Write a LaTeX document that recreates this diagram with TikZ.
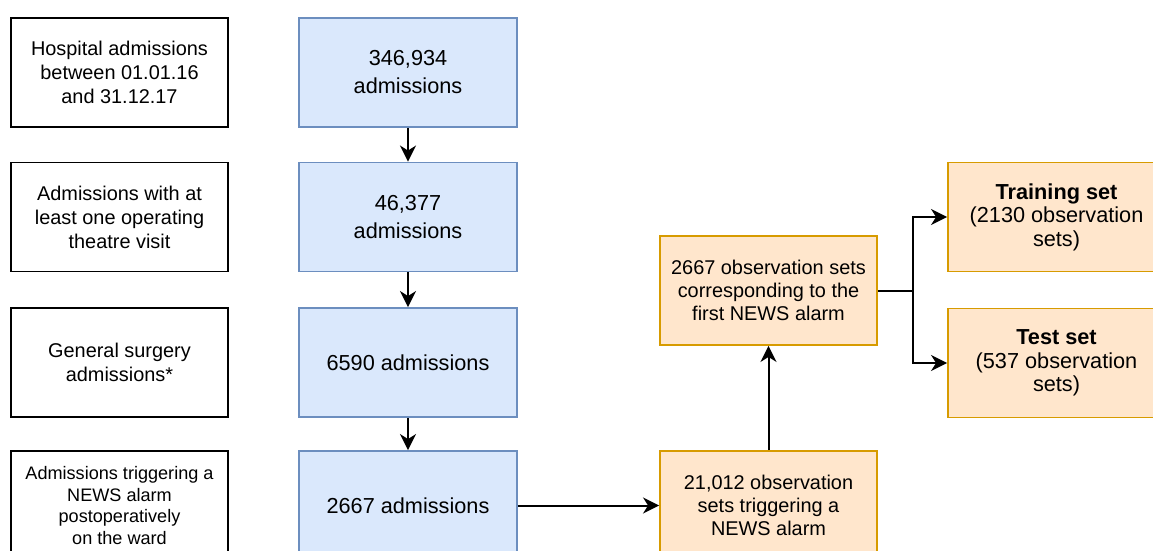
\documentclass[tikz,border=0pt]{standalone}
\usepackage{fontspec}
\setmainfont{Liberation Sans}
\usetikzlibrary{arrows.meta}

\definecolor{blueFill}{HTML}{DAE8FC}
\definecolor{blueLine}{HTML}{6C8EBF}
\definecolor{orangeFill}{HTML}{FFE6CC}
\definecolor{orangeLine}{HTML}{D79B00}

\tikzset{
  box/.style={draw, line width=1.9pt, minimum width=217pt, minimum height=109pt,
    inner sep=2pt, align=center, anchor=center},
  labelbox/.style={box, fill=white, draw=black, font=\fontsize{19.9}{23.9}\selectfont},
  smalllabel/.style={labelbox, font=\fontsize{18.1}{21.7}\selectfont},
  countbox/.style={box, fill=blueFill, draw=blueLine, minimum width=218pt,
    font=\fontsize{21.7}{28}\selectfont},
  obsbox/.style={box, fill=orangeFill, draw=orangeLine, font=\fontsize{19.9}{23.3}\selectfont},
  setbox/.style={box, fill=orangeFill, draw=orangeLine, font=\fontsize{21.7}{23.5}\selectfont},
  arr/.style={draw=black, line width=2pt,
    -{Stealth[length=16pt, width=16pt, inset=5pt]}},
  plain/.style={draw=black, line width=2pt}
}

\begin{document}
\begin{tikzpicture}[x=1pt, y=-1pt]
  \useasboundingbox (0,0) rectangle (1153,551);
  \clip (0,0) rectangle (1153,551);

  % criteria column
  \node[labelbox] (l1) at (119.5, 72.5) {Hospital admissions\\between 01.01.16\\and 31.12.17};
  \node[labelbox] (l2) at (119.5, 217) {Admissions with at\\least one operating\\theatre visit};
  \node[labelbox] (l3) at (119.5, 362.5) {General surgery\\admissions*};
  \node[smalllabel] (l4) at (119.5, 505.5) {Admissions triggering a\\NEWS alarm\\postoperatively\\on the ward};

  % admission counts
  \node[countbox] (b1) at (408, 72.5) {346,934\\admissions};
  \node[countbox] (b2) at (408, 217) {46,377\\admissions};
  \node[countbox] (b3) at (408, 362.5) {6590 admissions};
  \node[countbox] (b4) at (408, 505.5) {2667 admissions};

  % observation sets
  \node[obsbox] (o2) at (768.5, 505.5) {21,012 observation\\sets triggering a\\NEWS alarm};
  \node[obsbox] (o1) at (768.5, 290.5) {2667 observation sets\\corresponding to the\\first NEWS alarm};

  % data split
  \node[setbox] (train) at (1056.5, 217) {\textbf{Training set}\\(2130 observation\\sets)};
  \node[setbox] (test) at (1056.5, 363) {\textbf{Test set}\\(537 observation\\sets)};

  \coordinate (split) at (913, 290.5);

  % connectors
  \draw[arr] (b1) -- (b2);
  \draw[arr] (b2) -- (b3);
  \draw[arr] (b3) -- (b4);
  \draw[arr] (b4) -- (o2);
  \draw[arr] (o2) -- (o1);
  \draw[plain] (o1.east) -- (split);
  \draw[arr] (split) |- (train.west);
  \draw[arr] (split) |- (test.west);
\end{tikzpicture}
\end{document}
